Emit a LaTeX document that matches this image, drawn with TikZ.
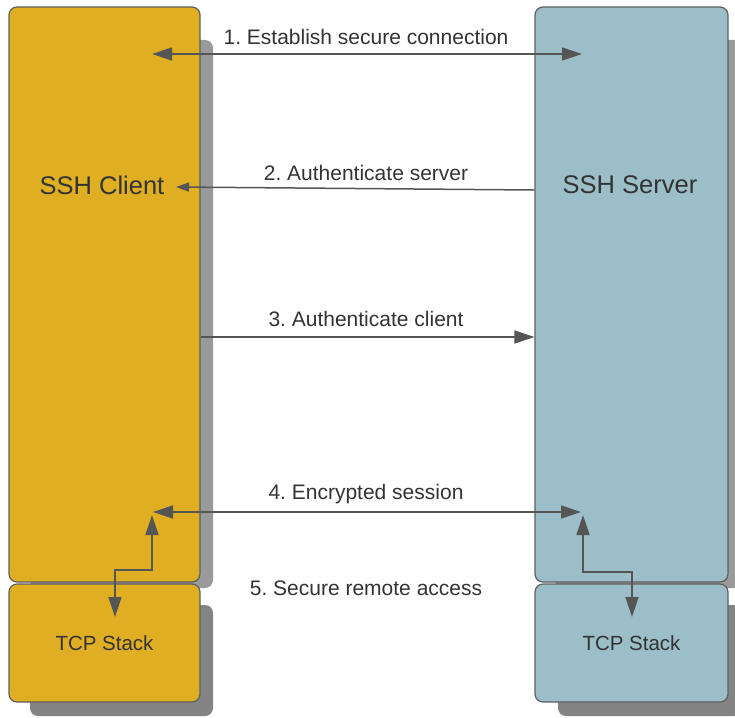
\documentclass[tikz,border=0pt]{standalone}
\usepackage{fontspec}
\setmainfont{Liberation Sans}
\usetikzlibrary{arrows.meta}
\definecolor{gold}{HTML}{DFAE22}
\definecolor{steel}{HTML}{9CBEC9}
\definecolor{edgec}{HTML}{5F5F5F}
\definecolor{arr}{HTML}{555555}
\definecolor{txt}{HTML}{333333}
\definecolor{shadeA}{HTML}{9A9A9A}
\definecolor{shadeB}{HTML}{848484}
\frenchspacing
\begin{document}
\begin{tikzpicture}[x=1pt,y=-1pt,
  box/.style={draw=edgec,line width=1.2pt,rounded corners=8pt,inner sep=0pt},
  bigbox/.style={box,minimum width=191pt,minimum height=575pt},
  tcpbox/.style={box,minimum width=191pt,minimum height=118pt,text=txt,font=\fontsize{20.5}{24}\selectfont},
  shadowA/.style={fill=shadeA,rounded corners=8pt},
  shadowB/.style={fill=shadeB,rounded corners=8pt},
  conn/.style={draw=arr,line width=1.5pt,-{Triangle[length=20pt,width=13pt]}},
  both/.style={draw=arr,line width=1.5pt,{Triangle[length=20pt,width=13pt]}-{Triangle[length=20pt,width=13pt]}},
  small/.style={draw=arr,line width=1.5pt,-{Triangle[length=13pt,width=9pt]}},
  lbl/.style={text=txt,font=\fontsize{21}{24}\selectfont,inner sep=0pt},
  title/.style={text=txt,font=\fontsize{25.5}{30}\selectfont,inner sep=0pt}]
\useasboundingbox (0,0) rectangle (735,717);
% shadows
\fill[shadowA] (30,40) rectangle (213,588);
\fill[shadowB] (30,605) rectangle (213,716);
\fill[shadowA] (555,40) rectangle (742,588);
\fill[shadowB] (558,605) rectangle (742,716);
% boxes
\node[bigbox,fill=gold] (client) at (104.5,294.5) {};
\node[bigbox,fill=steel,minimum width=193pt] (server) at (631.5,294.5) {};
\node[tcpbox,fill=gold] (tcpL) at (104.5,643) {TCP Stack};
\node[tcpbox,fill=steel,minimum width=193pt] (tcpR) at (631.5,643) {TCP Stack};
\node[title] (cname) at (102,185) {SSH Client};
\node[title] (sname) at (630,185) {SSH Server};
% connector ends
\coordinate (a1L) at (152,54);
\coordinate (a1R) at (582,54);
\coordinate (a2R) at (server.west |- 0,190);
\coordinate (a2L) at (176,187);
\coordinate (a3L) at (client.east |- 0,337);
\coordinate (a3R) at (server.west |- 0,337);
\coordinate (a4L) at (153,512);
\coordinate (a4R) at (581,512);
\coordinate (upL) at (152,515);
\coordinate (bendL) at (152,570);
\coordinate (downL) at (115,617);
\coordinate (upR) at (583,515);
\coordinate (bendR) at (583,572);
\coordinate (downR) at (632,617);
% connectors
\draw[both] (a1L) -- (a1R);
\draw[small] (a2R) -- (a2L);
\draw[conn] (a3L) -- (a3R);
\draw[both] (a4L) -- (a4R);
\draw[both] (upL) -- (bendL) -| (downL);
\draw[both] (upR) -- (bendR) -| (downR);
% labels
\node[lbl] (l1) at (366,37) {1. Establish secure connection};
\node[lbl] (l2) at (366,173) {2. Authenticate server};
\node[lbl] (l3) at (366,319) {3. Authenticate client};
\node[lbl] (l4) at (366,494) {4. Encrypted session};
\node[lbl] (l5) at (366,588) {5. Secure remote access};
\end{tikzpicture}
\end{document}
